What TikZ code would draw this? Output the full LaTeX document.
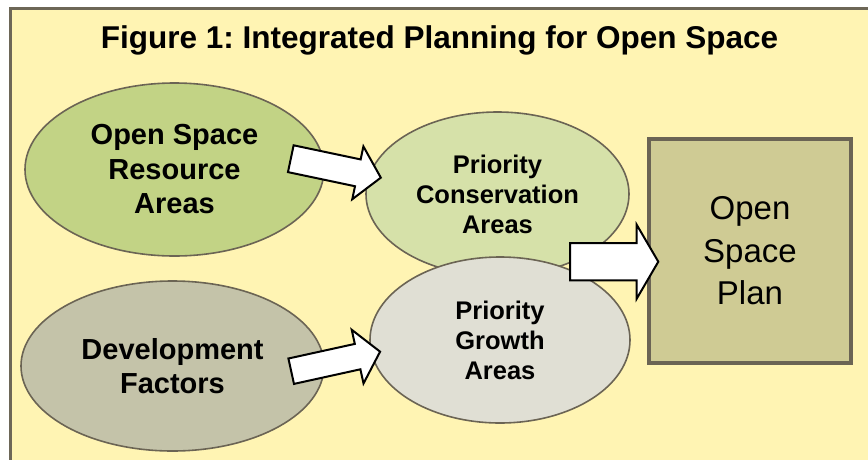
\documentclass[tikz,border=0pt]{standalone}
\usepackage{fontspec}
\setmainfont{Liberation Sans}
\usetikzlibrary{shapes.geometric}
\frenchspacing

\definecolor{paper}{HTML}{FFF4B3}
\definecolor{framegray}{HTML}{6D6757}
\definecolor{edgegray}{HTML}{6B6454}
\definecolor{resgreen}{HTML}{C2D385}
\definecolor{devolive}{HTML}{C4C3A9}
\definecolor{consgreen}{HTML}{D6E1A9}
\definecolor{growgray}{HTML}{E0DFD4}
\definecolor{planolive}{HTML}{CFCB94}

\tikzset{
  bubble/.style={ellipse, draw=edgegray, line width=1.6pt, inner sep=0pt, align=center},
  bigbold/.style={font=\fontsize{29}{34.5}\selectfont\bfseries},
  smallbold/.style={font=\fontsize{25.5}{30}\selectfont\bfseries},
  arrowbox/.style={draw=black, fill=white, line width=2pt, line join=miter},
}

% block arrow: tail centre x, y, angle, length, half shaft, half head, head length
\newcommand{\blockarr}[7]{%
  \begin{scope}[shift={(#1,#2)}, rotate=#3]
    \draw[arrowbox] (0,-#5) -- (#4-#7,-#5) -- (#4-#7,-#6) -- (#4,0)
      -- (#4-#7,#6) -- (#4-#7,#5) -- (0,#5) -- cycle;
  \end{scope}}

\begin{document}
\begin{tikzpicture}[x=1pt, y=-1pt]
  \useasboundingbox (0,0) rectangle (868,459);
  \clip (0,0) rectangle (868,459);
  \fill[white] (0,0) rectangle (868,459);

  % yellow panel, running past the right and bottom edges
  \draw[framegray, line width=3pt, fill=paper] (10,8.6) rectangle (900,500);

  \node[anchor=base, font=\fontsize{31.5}{36}\selectfont\bfseries] (title)
    at (439.5,48) {Figure 1: Integrated Planning for Open Space};

  \node[bubble, bigbold, fill=resgreen, minimum width=299, minimum height=173]
    (res) at (174.5,169.5) {Open Space\\Resource\\Areas};
  \node[bubble, bigbold, fill=devolive, minimum width=303, minimum height=170]
    (dev) at (172.5,366) {Development\\Factors};
  \node[bubble, smallbold, fill=consgreen, minimum width=263, minimum height=164]
    (cons) at (497.5,194) {Priority\\Conservation\\Areas};
  \node[bubble, smallbold, fill=growgray, minimum width=260, minimum height=166]
    (grow) at (500,340) {Priority\\Growth\\Areas};

  \node[draw=edgegray, line width=4pt, fill=planolive, minimum width=202,
    minimum height=224, inner sep=0pt, align=center,
    font=\fontsize{33}{42.5}\selectfont] (plan) at (750,251) {Open\\Space\\Plan};

  % flow arrows
  \coordinate (a1) at (290.8,158.7);
  \coordinate (a2) at (291.2,371.2);
  \coordinate (a3) at (570,261.7);
  \blockarr{290.8}{158.7}{-11.9}{92}{13.7}{27}{23.5}
  \blockarr{291.2}{371.2}{12.4}{91}{13}{27.5}{23}
  \blockarr{570}{261.7}{0}{88.3}{18.7}{37}{21.6}
\end{tikzpicture}
\end{document}
